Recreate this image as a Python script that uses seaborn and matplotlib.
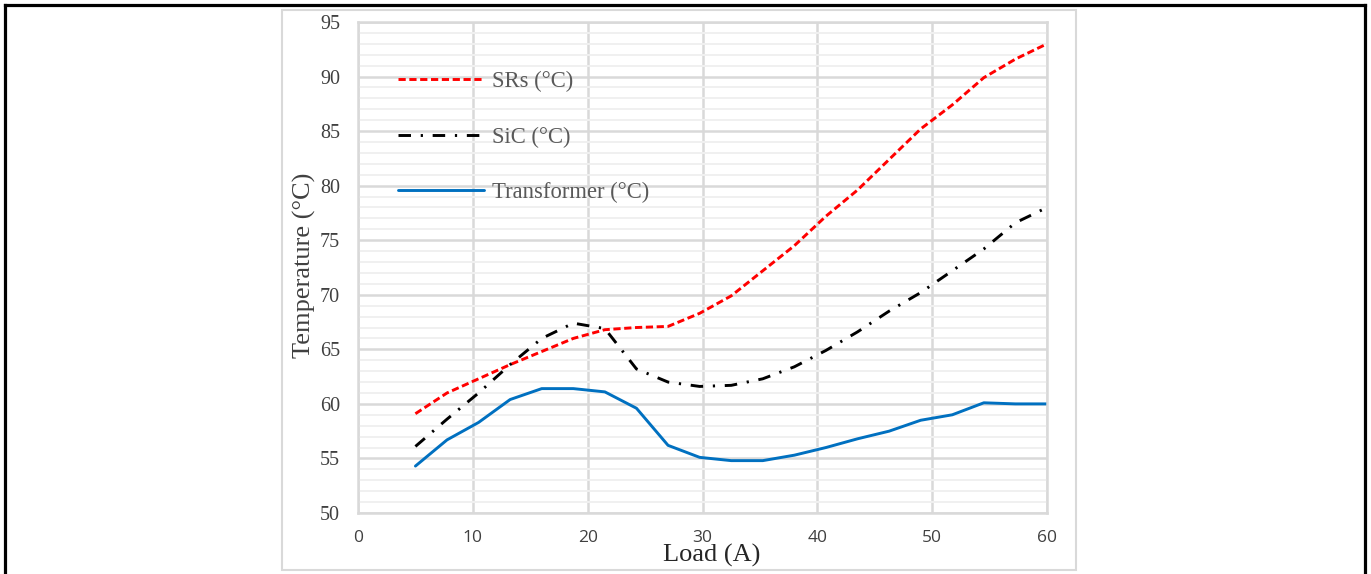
import matplotlib
matplotlib.use("Agg")
import matplotlib.pyplot as plt
from matplotlib.lines import Line2D
from matplotlib.patches import Rectangle
import numpy as np
import pandas as pd
import seaborn as sns

# Load current (A)
load = [5, 7.75, 10.5, 13.25, 16, 18.75, 21.5, 24.25, 27, 29.75, 32.5,
        35.25, 38, 40.75, 43.5, 46.25, 49, 51.75, 54.5, 57.25, 60]

# Measured temperatures (°C)
srs = [59.1, 61.0, 62.3, 63.6, 64.8, 66.0, 66.8, 67.0, 67.1, 68.3, 69.9,
       72.2, 74.5, 77.2, 79.6, 82.4, 85.2, 87.4, 89.9, 91.6, 93.0]
sic = [56.1, 58.6, 61.0, 63.6, 66.0, 67.4, 66.9, 63.2, 62.0, 61.6, 61.7,
       62.3, 63.4, 64.9, 66.6, 68.5, 70.2, 72.2, 74.2, 76.6, 78.0]
transformer = [54.3, 56.7, 58.3, 60.4, 61.4, 61.4, 61.1, 59.6, 56.2, 55.1, 54.8,
               54.8, 55.3, 56.0, 56.8, 57.5, 58.5, 59.0, 60.1, 60.0, 60.0]

series_names = ["SRs (°C)", "SiC (°C)", "Transformer (°C)"]
x_ticks = [0, 10, 20, 30, 40, 50, 60]
y_ticks = [50, 55, 60, 65, 70, 75, 80, 85, 90, 95]

df = pd.DataFrame({"Load": load,
                   series_names[0]: srs,
                   series_names[1]: sic,
                   series_names[2]: transformer})
long_df = df.melt(id_vars="Load", var_name="Series", value_name="Temperature")

sns.set_theme(style="white")
plt.rcParams["lines.scale_dashes"] = False
serif = ["Liberation Serif", "DejaVu Serif"]
sans = ["Open Sans", "DejaVu Sans"]

W, H = 1371, 574
fig = plt.figure(figsize=(W / 100, H / 100), dpi=100)
ax = fig.add_axes([358 / W, 1 - 513 / H, 689 / W, 491 / H])

palette = {series_names[0]: "#FF0000",
           series_names[1]: "#000000",
           series_names[2]: "#0070C0"}
dashes = {series_names[0]: (5.2, 2.6),
          series_names[1]: (9, 7, 1.6, 7),
          series_names[2]: ""}

sns.lineplot(data=long_df, x="Load", y="Temperature", hue="Series",
             style="Series", hue_order=series_names, style_order=series_names,
             palette=palette, dashes=dashes, linewidth=2.1, ax=ax)

ax.set_xlim(0, 60)
ax.set_ylim(50, 95)
ax.set_xticks(x_ticks)
ax.set_xticklabels([str(v) for v in x_ticks], fontfamily=sans, fontsize=12.5,
                   color="#404040")
ax.set_yticks(y_ticks)
ax.set_yticklabels([str(v) for v in y_ticks], fontfamily=serif, fontsize=14.5,
                   color="#404040")
ax.set_yticks(np.arange(50, 96, 1), minor=True)
ax.tick_params(which="both", length=0)
ax.tick_params(axis="x", pad=12.5)
ax.tick_params(axis="y", pad=13)

ax.set_axisbelow(True)
ax.grid(which="minor", axis="y", color="#f0f0f0", lw=1.4)
ax.grid(which="major", color="#d9d9d9", lw=1.8)
for sp in ax.spines.values():
    sp.set_visible(True)
    sp.set_color("#d9d9d9")
    sp.set_linewidth(1.8)

ax.set_xlabel("Load (A)", fontfamily=serif, fontsize=19, color="#262626")
ax.xaxis.label.set_va("center")
ax.xaxis.set_label_coords(0.513, -0.087)
ax.set_ylabel("Temperature (°C)", fontfamily=serif, fontsize=19, color="#404040")
ax.yaxis.label.set_va("center")
ax.yaxis.set_label_coords(-0.077, 0.505)

handles, labels = ax.get_legend_handles_labels()
leg = ax.legend(handles, labels, loc="upper left", bbox_to_anchor=(0.058, 0.900),
                frameon=False, borderpad=0, borderaxespad=0,
                handlelength=3.8, handletextpad=0.36, labelspacing=1.52,
                prop={"family": serif, "size": 16.3}, labelcolor="#595959")

# chart area outline and outer frame
fig.add_artist(Rectangle((282 / W, 1 - 570 / H), (1076 - 282) / W, (570 - 10) / H,
                         transform=fig.transFigure, fill=False,
                         ec="#d9d9d9", lw=1.5))
frame_kw = dict(transform=fig.transFigure, color="black", lw=2.3,
                solid_capstyle="projecting")
fig.add_artist(Line2D([5.3 / W, 5.3 / W], [0, 1 - 4.5 / H], **frame_kw))
fig.add_artist(Line2D([5.3 / W, 1365 / W], [1 - 4.5 / H, 1 - 4.5 / H], **frame_kw))
fig.add_artist(Line2D([1365 / W, 1365 / W], [0, 1 - 4.5 / H], **frame_kw))

fig.savefig("out.png", dpi=100, facecolor="white")
